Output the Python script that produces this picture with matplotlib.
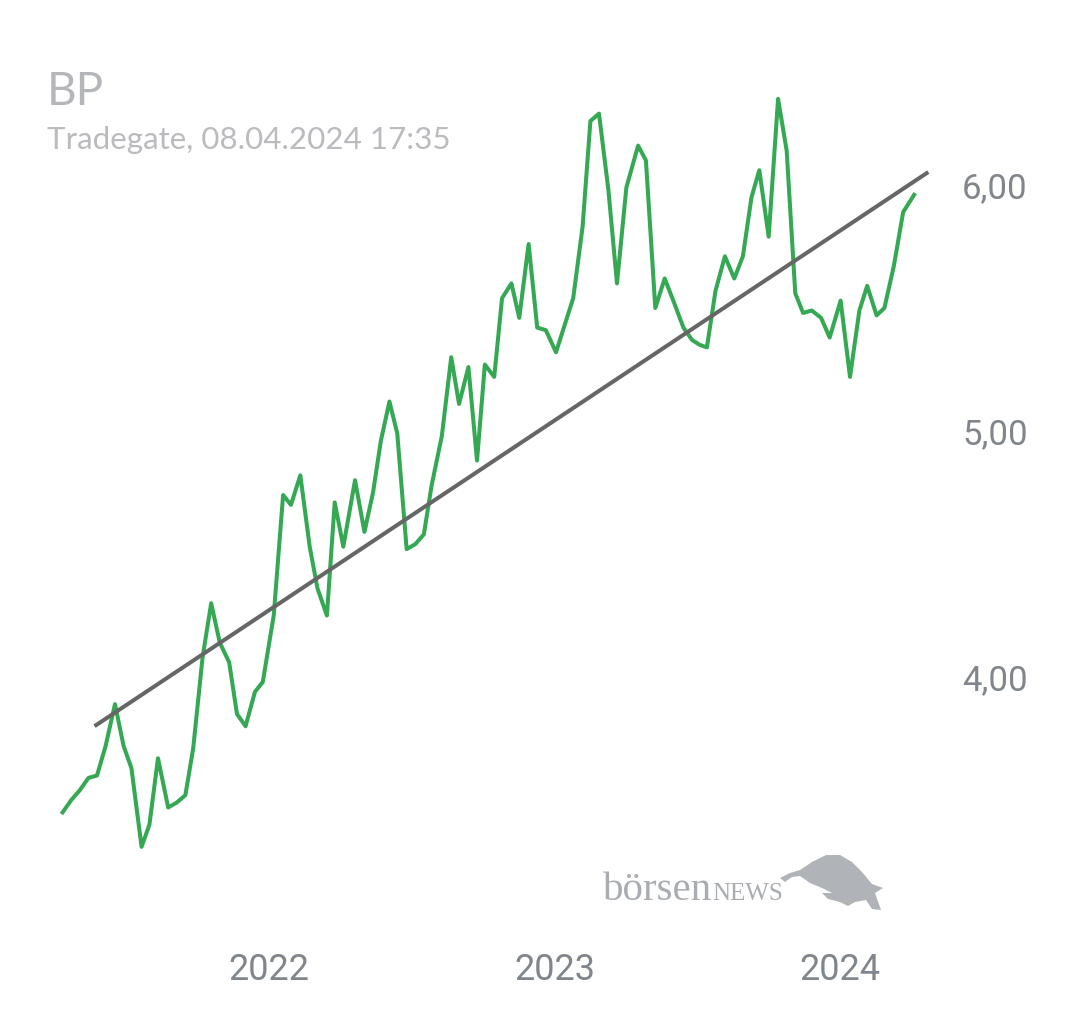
import numpy as np
import pandas as pd
import matplotlib
matplotlib.use("Agg")
import matplotlib.pyplot as plt
import matplotlib.dates as mdates
from matplotlib.patches import Polygon
from matplotlib.ticker import FuncFormatter, FixedLocator

# BP share price (Tradegate), EUR; days counted from 2022-01-01
day_offsets = [-264, -253, -242, -231, -220, -209, -197, -186, -176, -163,
               -153, -142, -129, -118, -107, -97, -85, -74, -63, -51,
               -41, -30, -18, -8, 6, 18, 28, 40, 52, 62,
               74, 84, 95, 110, 122, 133, 143, 154, 164, 176,
               187, 198, 208, 221, 233, 243, 255, 266, 276, 288,
               298, 310, 320, 332, 343, 354, 367, 379, 389, 401,
               411, 422, 434, 445, 457, 472, 482, 494, 506, 517,
               530, 541, 551, 560, 571, 583, 595, 606, 617, 627,
               639, 651, 662, 673, 683, 694, 706, 717, 731, 743,
               755, 765, 777, 787, 799, 811, 825]
prices = [3.45, 3.50, 3.54, 3.59, 3.60, 3.72, 3.89, 3.72, 3.63, 3.31,
          3.40, 3.67, 3.47, 3.49, 3.52, 3.71, 4.08, 4.30, 4.14, 4.06,
          3.85, 3.80, 3.94, 3.98, 4.25, 4.74, 4.70, 4.82, 4.53, 4.36,
          4.25, 4.71, 4.53, 4.80, 4.59, 4.75, 4.96, 5.12, 4.99, 4.52,
          4.54, 4.58, 4.78, 4.98, 5.30, 5.11, 5.26, 4.88, 5.27, 5.22,
          5.54, 5.60, 5.46, 5.76, 5.42, 5.41, 5.32, 5.44, 5.54, 5.83,
          6.26, 6.29, 5.98, 5.60, 5.99, 6.16, 6.10, 5.50, 5.62, 5.53,
          5.42, 5.37, 5.35, 5.34, 5.57, 5.71, 5.62, 5.71, 5.95, 6.06,
          5.79, 6.35, 6.14, 5.56, 5.48, 5.49, 5.46, 5.38, 5.53, 5.22,
          5.49, 5.59, 5.47, 5.50, 5.67, 5.89, 5.96]

# trend line
trend_dates = ["2021-05-25", "2024-04-21"]
trend_values = [3.805, 6.048]

y_ticks = [4, 5, 6]

title = "BP"
subtitle = "Tradegate, 08.04.2024 17:35"

W, H = 1080, 1013
fig = plt.figure(figsize=(W / 100, H / 100), dpi=100)
fig.patch.set_facecolor("white")

# axes box in pixels: left 30, right 940, top 60, bottom 930
ax = fig.add_axes([30 / W, (H - 930) / H, 910 / W, 870 / H])

ref = pd.Timestamp("2022-01-01")
dates = ref + pd.to_timedelta(day_offsets, unit="D")
ax.plot(dates, prices, color="#34a853", lw=2.9, zorder=2)
ax.plot(pd.to_datetime(trend_dates), trend_values, color="#666666", lw=2.9, zorder=3)

base = mdates.date2num(ref)
ax.set_xlim(base - 305.7, base + 858.1)
ax.set_ylim(2.972, 6.508)

ax.xaxis.set_major_locator(mdates.YearLocator())
ax.xaxis.set_major_formatter(mdates.DateFormatter("%Y"))
ax.yaxis.set_major_locator(FixedLocator(y_ticks))
ax.yaxis.set_major_formatter(FuncFormatter(lambda v, p: f"{v:.2f}".replace(".", ",")))
ax.yaxis.tick_right()

ax.tick_params(axis="x", length=0, pad=15.8, labelsize=26, labelcolor="#80868b")
ax.tick_params(axis="y", length=0, pad=15.8, labelsize=25, labelcolor="#80868b")
for lab in ax.get_xticklabels() + ax.get_yticklabels():
    lab.set_family("Roboto")

for s in ax.spines.values():
    s.set_visible(False)
ax.set_facecolor("none")

# header
fig.text(47 / W, 1 - 105 / H, title, fontsize=33, color="#b4b6b9",
         family="Lato", va="baseline", ha="left")
fig.text(47 / W, 1 - 149 / H, subtitle, fontsize=22.6, color="#b9bbbe",
         family="Lato", va="baseline", ha="left")

# watermark
wm = fig.text(603 / W, 1 - 900 / H, "börsen", fontsize=29.5, color="#a9adb1",
              family="Liberation Serif", va="baseline", ha="left")
fig.canvas.draw()
x_end = wm.get_window_extent().x1 / W
fig.text(x_end, 1 - 900 / H, "NEWS", fontsize=18, color="#a9adb1",
         family="Liberation Serif", va="baseline", ha="left")
bull = [(780, 878), (790, 873), (800, 870), (812, 862), (826, 855),
        (840, 855), (852, 862), (862, 872), (872, 884), (883, 888),
        (875, 893), (881, 910), (872, 909), (866, 900), (855, 902),
        (848, 906), (840, 902), (828, 899), (822, 893), (832, 893),
        (822, 888), (810, 883), (800, 876), (792, 877), (785, 882)]
fig.patches.append(Polygon([(x / W, 1 - y / H) for x, y in bull], closed=True,
                           transform=fig.transFigure, facecolor="#b0b4b8",
                           edgecolor="none"))

fig.savefig("out.png", dpi=100)
plt.close(fig)
